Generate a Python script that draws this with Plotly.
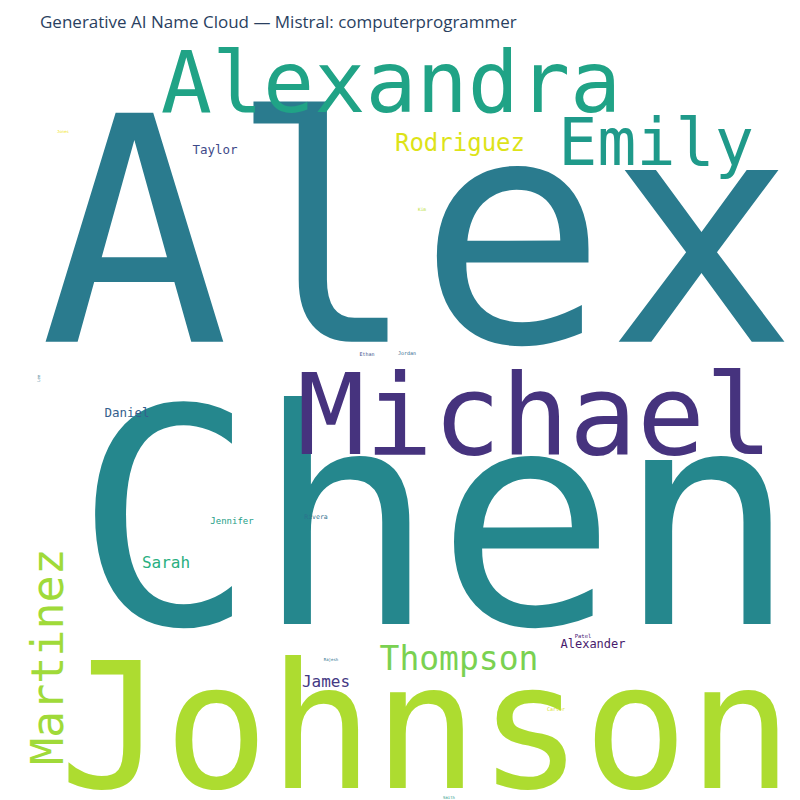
import plotly.graph_objects as go

# word cloud content (word, weight ~ font size, layout position, colour)
words = ["Alex", "Chen", "Johnson", "Alexandra", "Michael", "Emily", "Martinez",
         "Thompson", "Rodriguez", "Sarah", "James", "Taylor", "Daniel",
         "Alexander", "Jennifer", "Rivera", "Patel", "Ethan", "Jordan", "Carter",
         "Kim", "Rajesh", "Smith", "Jones", "Lee"]
weights = [314, 300, 174, 85, 113, 65, 45, 33, 24, 16, 16, 12.5, 12.5,
           12, 9, 6.5, 5.5, 5, 5, 5, 4.5, 4, 4, 4, 4]
pos_x = [410, 428, 418, 383, 527, 648, 39, 451, 452, 158, 318, 207, 119,
         585, 224, 308, 575, 359, 399, 548, 414, 323, 441, 55, 30]
baseline_y = [340, 622, 783, 106, 448, 158, 649, 663, 143, 560, 679, 146, 409,
              640, 516, 511, 630, 348, 347, 703, 203, 653, 791, 125, 370]
angles = [0, 0, 0, 0, 0, 0, -90, 0, 0, 0, 0, 0, 0,
          0, 0, 0, 0, 0, 0, 0, 0, 0, 0, 0, -90]
colors = ["#2a7b8e", "#25878d", "#addc30", "#20a386", "#46337e", "#1f9a8a", "#a0da39",
          "#7ad151", "#dde318", "#29af7f", "#443983", "#3e4a89", "#355f8d",
          "#481b6d", "#1fa088", "#2c728e", "#482475", "#3b528b", "#31688e", "#d8e219",
          "#b5de2b", "#2c728e", "#2c9a8a", "#f0e51c", "#2c728e"]

hx, hy, ht, hs, hc = [], [], [], [], []
fig = go.Figure()
for w, s, x, b, a, c in zip(words, weights, pos_x, baseline_y, angles, colors):
    if a == 0:
        hx.append(x); hy.append(b - 0.27 * s); ht.append(w); hs.append(s); hc.append(c)
    else:
        fig.add_annotation(x=x, y=b, text=w, textangle=a, showarrow=False,
                           xref="x", yref="y",
                           font=dict(family="DejaVu Sans Mono", size=s, color=c))

fig.add_trace(go.Scatter(x=hx, y=hy, text=ht, mode="text", hoverinfo="skip",
                         textposition="middle center",
                         textfont=dict(family="DejaVu Sans Mono", size=hs, color=hc)))

fig.update_layout(
    width=800, height=800,
    margin=dict(l=0, r=0, t=0, b=0),
    paper_bgcolor="white", plot_bgcolor="white",
    showlegend=False,
    title=dict(text="Generative AI Name Cloud — Mistral: computerprogrammer",
               x=0.04, xanchor="left", y=0.983, yanchor="middle",
               font=dict(size=17, color="#2a3f5f")),
    xaxis=dict(range=[0, 800], visible=False, fixedrange=True),
    yaxis=dict(range=[800, 0], visible=False, fixedrange=True),
)
fig.write_html("out.html")
